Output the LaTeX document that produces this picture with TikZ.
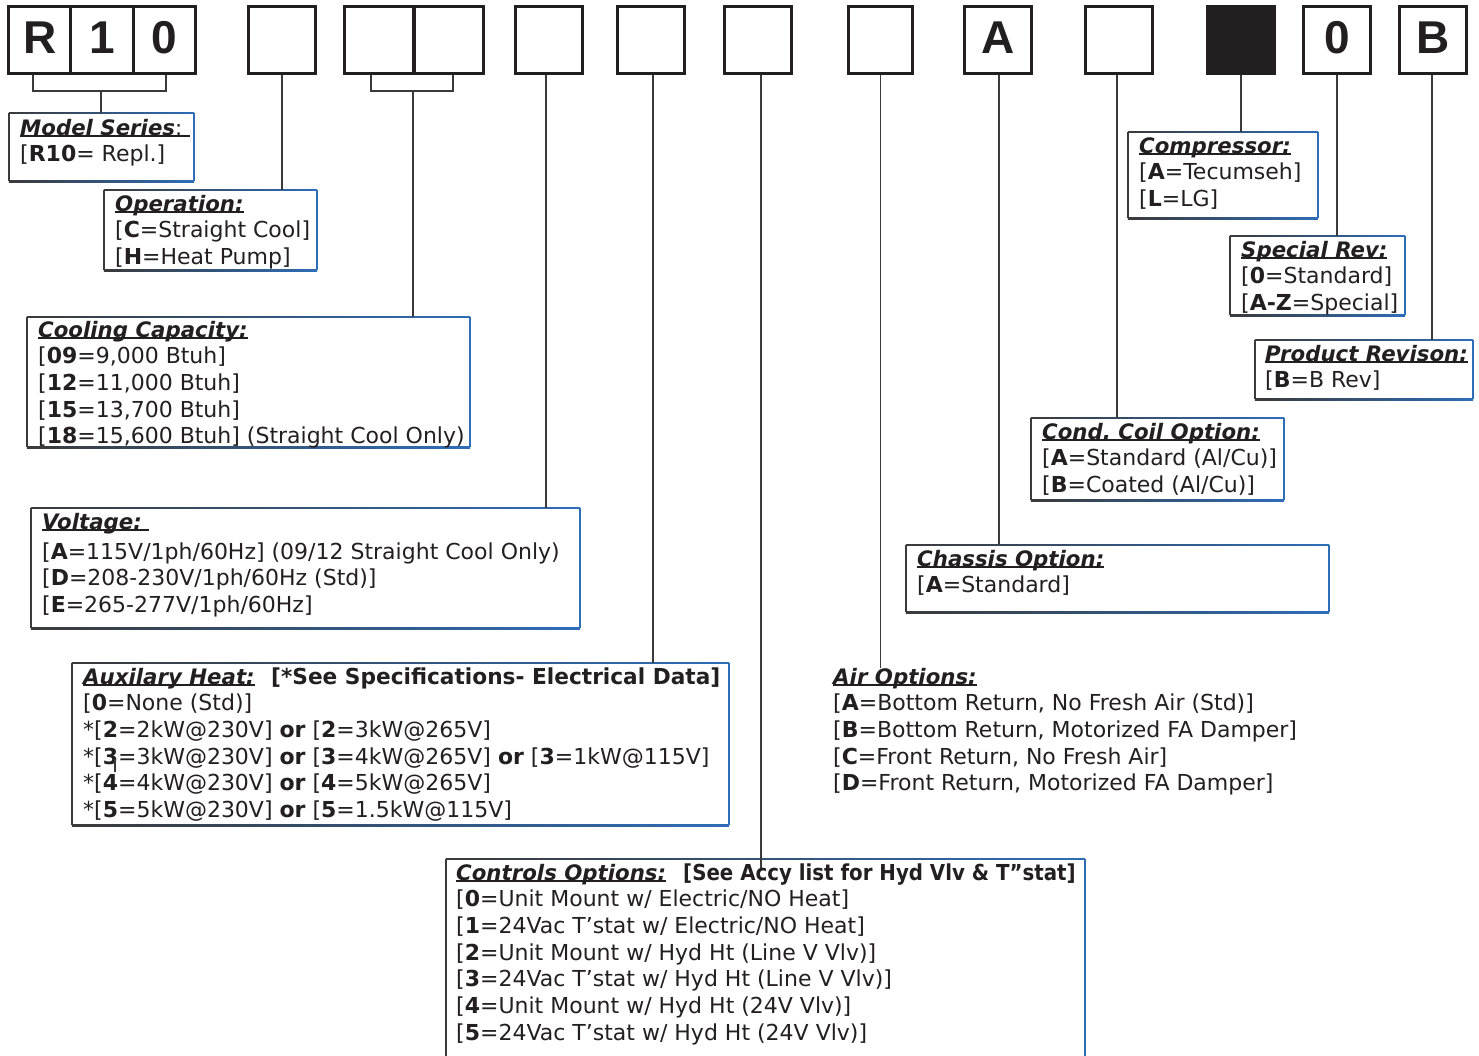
\documentclass[tikz,border=0pt]{standalone}
\usepackage{fontspec}
\usepackage{graphicx}
\setmainfont{DejaVu Sans}
\newfontfamily\capfont{Liberation Sans}
\usetikzlibrary{calc,fit}
\frenchspacing
\definecolor{ink}{HTML}{231F20}
\definecolor{edge}{HTML}{3A3A3A}
\definecolor{bblue}{HTML}{2E6DB8}
\newcommand\ttl[1]{\sbox0{\fontsize{21.3}{26}\selectfont\bfseries\itshape #1}\rlap{\rule[-2pt]{\wd0}{1.6pt}}\usebox0}
\newcommand\dbox[5]{%
  \path (#2,#3) coordinate (#1-nw) (#4,#5) coordinate (#1-se);
  \node[fit=(#1-nw)(#1-se), inner sep=0pt] (#1) {};
  \shade[left color=edge, right color=bblue] ($(#1.north west)+(0,-0.8)$) rectangle ($(#1.north east)+(0,0.8)$);
  \shade[left color=edge, right color=bblue] ($(#1.south west)+(0,-0.8)$) rectangle ($(#1.south east)+(0,0.8)$);
  \draw[edge, line width=1.6pt] (#1.north west) -- (#1.south west);
  \draw[bblue, line width=1.6pt] (#1.north east) -- (#1.south east);
}
\newcommand\block[4]{%
  \foreach \t [count=\i from 0] in {#4} {\node[txt] (#1t\i) at (#2,{#3+26.7*\i}) {\t};}
}
\tikzset{
  cell/.style={draw=ink, line width=3.2pt, minimum width=67pt, minimum height=67pt, inner sep=0pt, fill=white},
  big/.style={font=\capfont\bfseries\fontsize{46}{46}\selectfont, text=ink, inner sep=0pt, anchor=base},
  txt/.style={anchor=base west, inner sep=0pt, text=ink, font=\fontsize{22}{26}\selectfont\frenchspacing},
  conn/.style={draw=edge, line width=1.5pt},
}
\begin{document}
\begin{tikzpicture}[x=1pt,y=-1pt]
\useasboundingbox (0,0) rectangle (1479,1055);
\clip (0,0) rectangle (1479,1055);
\fill[white] (0,0) rectangle (1479,1055);
% top code boxes
\node[cell, minimum width=62.3pt] (r1) at (39.7,40) {};
\node[cell, minimum width=62.3pt] (r2) at (102,40) {};
\node[cell, minimum width=62.3pt] (r3) at (164.3,40) {};
\node[big] (lr1) at (39.7,53) {R};
\node[big] (lr2) at (102,53) {1};
\node[big] (lr3) at (164.3,53) {0};
\node[cell] (b2) at (282,40) {};
\node[cell, minimum width=69.4pt] (b3a) at (379.3,40) {};
\node[cell, minimum width=69.4pt] (b3b) at (448.7,40) {};
\node[cell] (b4) at (549,40) {};
\node[cell] (b5) at (651,40) {};
\node[cell] (b6) at (758,40) {};
\node[cell, minimum width=64pt] (b7) at (880.5,40) {};
\node[cell] (b8) at (998,40) {};
\node[big] (lb8) at (998,53) {A};
\node[cell] (b9) at (1119,40) {};
\node[cell, fill=ink] (b10) at (1241,40) {};
\node[cell] (b11) at (1337,40) {};
\node[big] (lb11) at (1337,53) {0};
\node[cell] (b12) at (1433,40) {};
\node[big] (lb12) at (1433,53) {B};

% description boxes
\dbox{ms}{9}{113}{194}{181}
\dbox{op}{104}{190}{317}{270}
\dbox{cc}{27}{317}{470}{447}
\dbox{vo}{31}{508}{580}{628}
\dbox{ax}{72}{663}{729}{825}
\dbox{ct}{446}{859}{1085}{1075}
\dbox{ch}{906}{545}{1329}{612}
\dbox{cd}{1031}{418}{1284}{500}
\dbox{cp}{1128}{132}{1318}{218}
\dbox{sr}{1230}{236}{1405}{315}
\dbox{pr}{1255}{340}{1473}{399}

% texts
\block{ms}{20}{135}{{\ttl{Model Series{\mdseries\upshape :}\ }},{[\textbf{R10}= Repl.]}}
\block{op}{115}{211}{{\ttl{Operation:}},{[\textbf{C}=Straight Cool]},{[\textbf{H}=Heat Pump]}}
\block{cc}{38}{337}{{\ttl{Cooling Capacity:}},{[\textbf{09}=9,000 Btuh]},{[\textbf{12}=11,000 Btuh]},{[\textbf{15}=13,700 Btuh]},{[\textbf{18}=15,600 Btuh] (Straight Cool Only)}}
\node[txt] (vot) at (42,529) {\ttl{Voltage:\ }};
\block{vo}{42}{559}{{[\textbf{A}=115V/1ph/60Hz] (09/12 Straight Cool Only)},{[\textbf{D}=208-230V/1ph/60Hz (Std)]},{[\textbf{E}=265-277V/1ph/60Hz]}}
\block{ax}{83}{684}{{\ttl{Auxilary Heat:}},{[\textbf{0}=None (Std)]},{*[\textbf{2}=2kW@230V] \textbf{or} [\textbf{2}=3kW@265V]},{*[\textbf{3}=3kW@230V] \textbf{or} [\textbf{3}=4kW@265V] \textbf{or} [\textbf{3}=1kW@115V]},{*[\textbf{4}=4kW@230V] \textbf{or} [\textbf{4}=5kW@265V]},{*[\textbf{5}=5kW@230V] \textbf{or} [\textbf{5}=1.5kW@115V]}}
\node[txt] (axb) at (271,684) {\scalebox{0.985}[1]{\textbf{[*See Specifications- Electrical Data]}}};
\block{ct}{456}{880}{{\ttl{Controls Options:}},{[\textbf{0}=Unit Mount w/ Electric/NO Heat]},{[\textbf{1}=24Vac T’stat w/ Electric/NO Heat]},{[\textbf{2}=Unit Mount w/ Hyd Ht (Line V Vlv)]},{[\textbf{3}=24Vac T’stat w/ Hyd Ht (Line V Vlv)]},{[\textbf{4}=Unit Mount w/ Hyd Ht (24V Vlv)]},{[\textbf{5}=24Vac T’stat w/ Hyd Ht (24V Vlv)]}}
\node[txt] (ctb) at (683,880) {\scalebox{0.9}[1]{\textbf{[See Accy list for Hyd Vlv \& T”stat]}}};
\block{air}{833}{684}{{\ttl{Air Options:}},{[\textbf{A}=Bottom Return, No Fresh Air (Std)]},{[\textbf{B}=Bottom Return, Motorized FA Damper]},{[\textbf{C}=Front Return, No Fresh Air]},{[\textbf{D}=Front Return, Motorized FA Damper]}}
\block{ch}{917}{566}{{\ttl{Chassis Option:}},{[\textbf{A}=Standard]}}
\block{cd}{1042}{439}{{\ttl{Cond.\ Coil Option:}},{[\textbf{A}=Standard (Al/Cu)]},{[\textbf{B}=Coated (Al/Cu)]}}
\block{cp}{1139}{153}{{\ttl{Compressor:}},{[\textbf{A}=Tecumseh]},{[\textbf{L}=LG]}}
\block{sr}{1241}{257}{{\ttl{Special Rev:}},{[\textbf{0}=Standard]},{[\textbf{A-Z}=Special]}}
\block{pr}{1265}{361}{{\ttl{Product Revison:}},{[\textbf{B}=B Rev]}}

% stray tick on the "3" row
\draw[edge, line width=1.2pt] (115,759) -- (115,772);

% brackets and connectors
\coordinate (k1l) at (33,75); \coordinate (k1r) at (166,75); \coordinate (k1m) at (101,91);
\draw[conn] (k1l) |- (k1r |- k1m) -- (k1r);
\draw[conn] (k1m) -- (k1m |- ms.north);
\coordinate (k2l) at (371,75); \coordinate (k2r) at (453,75); \coordinate (k2m) at (413,91);
\draw[conn] (k2l) |- (k2r |- k2m) -- (k2r);
\draw[conn] (k2m) -- (k2m |- cc.north);
\draw[conn] (b2.south) -- (b2.south |- op.north);
\draw[conn] ([xshift=-3pt]b4.south) -- ([xshift=-3pt]b4.south |- vo.north);
\draw[conn] ([xshift=2pt]b5.south) -- ([xshift=2pt]b5.south |- ax.north);
\draw[conn] ([xshift=3pt]b6.south) -- ([xshift=3pt,yshift=-9pt]b6.south |- ct.north);
\draw[conn] (b7.south) -- (b7.south |- airt0.north);
\draw[conn] ([xshift=1pt]b8.south) -- ([xshift=1pt]b8.south |- ch.north);
\draw[conn] ([xshift=-2pt]b9.south) -- ([xshift=-2pt]b9.south |- cd.north);
\draw[conn] (b10.south) -- (b10.south |- cp.north);
\draw[conn] (b11.south) -- (b11.south |- sr.north);
\draw[conn] ([xshift=-1pt]b12.south) -- ([xshift=-1pt]b12.south |- pr.north);
\end{tikzpicture}
\end{document}
